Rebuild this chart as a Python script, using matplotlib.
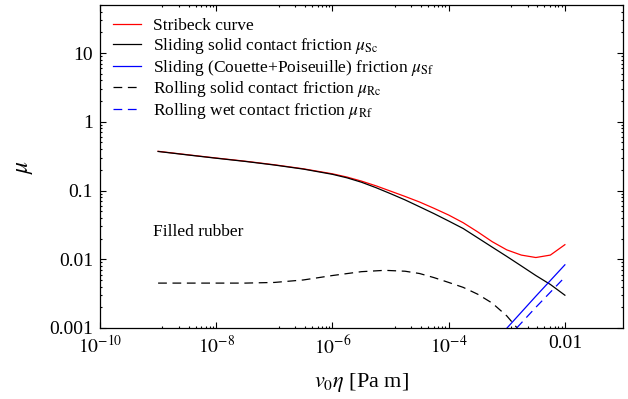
import numpy as np
import matplotlib
matplotlib.use("Agg")
import matplotlib.pyplot as plt
from matplotlib.ticker import FixedLocator, FixedFormatter, LogLocator, NullFormatter

plt.rcParams['font.family'] = 'serif'
plt.rcParams['font.serif'] = ['Liberation Serif', 'DejaVu Serif']
plt.rcParams['mathtext.fontset'] = 'stix'

# ---- data (log10 of v0*eta) ----
logx_S = [-9, -8.5, -8, -7.5, -7, -6.5, -6, -5.75, -5.5, -5.25, -5, -4.75, -4.5,
          -4.25, -4, -3.75, -3.5, -3.25, -3, -2.75, -2.5, -2.25, -2]
mu_stribeck = [0.372, 0.332, 0.297, 0.267, 0.237, 0.207, 0.175, 0.157, 0.137, 0.117,
               0.098, 0.082, 0.068, 0.055, 0.044, 0.034, 0.025, 0.018, 0.0137,
               0.0115, 0.0106, 0.0115, 0.0163]
mu_Sc = [0.37, 0.33, 0.295, 0.265, 0.235, 0.205, 0.172, 0.153, 0.132, 0.11, 0.09,
         0.073, 0.058, 0.046, 0.036, 0.028, 0.0205, 0.015, 0.011, 0.008, 0.0058,
         0.0043, 0.003]

logx_Rc = [-9, -8.5, -8, -7.5, -7, -6.5, -6, -5.5, -5.1, -4.75, -4.5, -4.25, -4,
           -3.75, -3.5, -3.25, -3, -2.75, -2.5]
mu_Rc = [0.0045, 0.0045, 0.0045, 0.0045, 0.0046, 0.0050, 0.0058, 0.0066, 0.0069,
         0.0067, 0.0062, 0.0054, 0.0046, 0.0039, 0.0031, 0.0023, 0.0015, 0.00085,
         0.0005]

logx_Sf = [-3.1, -2.5, -2]
mu_Sf = [0.0008, 0.0029, 0.0083]

logx_Rf = [-3.0, -2.5, -2]
mu_Rf = [0.0007, 0.002, 0.0055]

x_ticks = [1e-10, 1e-8, 1e-6, 1e-4, 1e-2]
x_ticklabels = [r'$10^{-10}$', r'$10^{-8}$', r'$10^{-6}$', r'$10^{-4}$', '0.01']
y_ticks = [1e-3, 1e-2, 1e-1, 1, 10]
y_ticklabels = ['0.001', '0.01', '0.1', '1', '10']

fig = plt.figure(figsize=(6.28, 3.99), dpi=100)
ax = fig.add_axes([100/628, 1-328/399, 523/628, 323/399])

lw = 0.9
ax.plot(10.0**np.array(logx_S), mu_stribeck, color='red', lw=lw, label='Stribeck curve')
ax.plot(10.0**np.array(logx_S), mu_Sc, color='black', lw=lw,
        label=r'Sliding solid contact friction $\mu_{\mathrm{Sc}}$')
ax.plot(10.0**np.array(logx_Sf), mu_Sf, color='blue', lw=lw,
        label=r'Sliding (Couette+Poiseuille) friction $\mu_{\mathrm{Sf}}$')
ax.plot(10.0**np.array(logx_Rc), mu_Rc, color='black', lw=lw, dashes=(7, 4.5),
        label=r'Rolling solid contact friction $\mu_{\mathrm{Rc}}$')
ax.plot(10.0**np.array(logx_Rf), mu_Rf, color='blue', lw=lw, dashes=(7, 4.5),
        label=r'Rolling wet contact friction $\mu_{\mathrm{Rf}}$')

ax.set_xscale('log')
ax.set_yscale('log')
ax.set_xlim(1e-10, 1e-1)
ax.set_ylim(1e-3, 50)

ax.xaxis.set_major_locator(FixedLocator(x_ticks))
ax.xaxis.set_major_formatter(FixedFormatter(x_ticklabels))
minor_x = []
for d in [-9, -7, -5, -3]:
    minor_x += list(10.0**(d+1) * np.linspace(0.01, 0.99, 10)[1:-1])
ax.xaxis.set_minor_locator(FixedLocator(minor_x))
ax.xaxis.set_minor_formatter(NullFormatter())

ax.yaxis.set_major_locator(FixedLocator(y_ticks))
ax.yaxis.set_major_formatter(FixedFormatter(y_ticklabels))
ax.yaxis.set_minor_locator(LogLocator(base=10, subs=np.arange(2, 10), numticks=20))
ax.yaxis.set_minor_formatter(NullFormatter())

ax.tick_params(which='both', direction='in', top=True, right=True, width=0.8,
               labelsize=14, pad=5)
ax.tick_params(which='major', length=4.3)
ax.tick_params(which='minor', length=1.6)
ax.tick_params(axis='x', top=True, labeltop=False)
for s in ax.spines.values():
    s.set_linewidth(0.9)

ax.set_xlabel(r'$v_0\eta$ [Pa m]', fontsize=16, labelpad=10)
ax.set_ylabel(r'$\mu$', fontsize=17, labelpad=10)

ax.text(8.1e-10, 0.025, 'Filled rubber', fontsize=12.5, ha='left', va='center')

leg = ax.legend(loc='upper left', frameon=False, fontsize=12.5, handlelength=1.6,
                handletextpad=0.7, labelspacing=0.1, borderaxespad=0.45,
                borderpad=0.3)

fig.savefig('out.png', dpi=100)
